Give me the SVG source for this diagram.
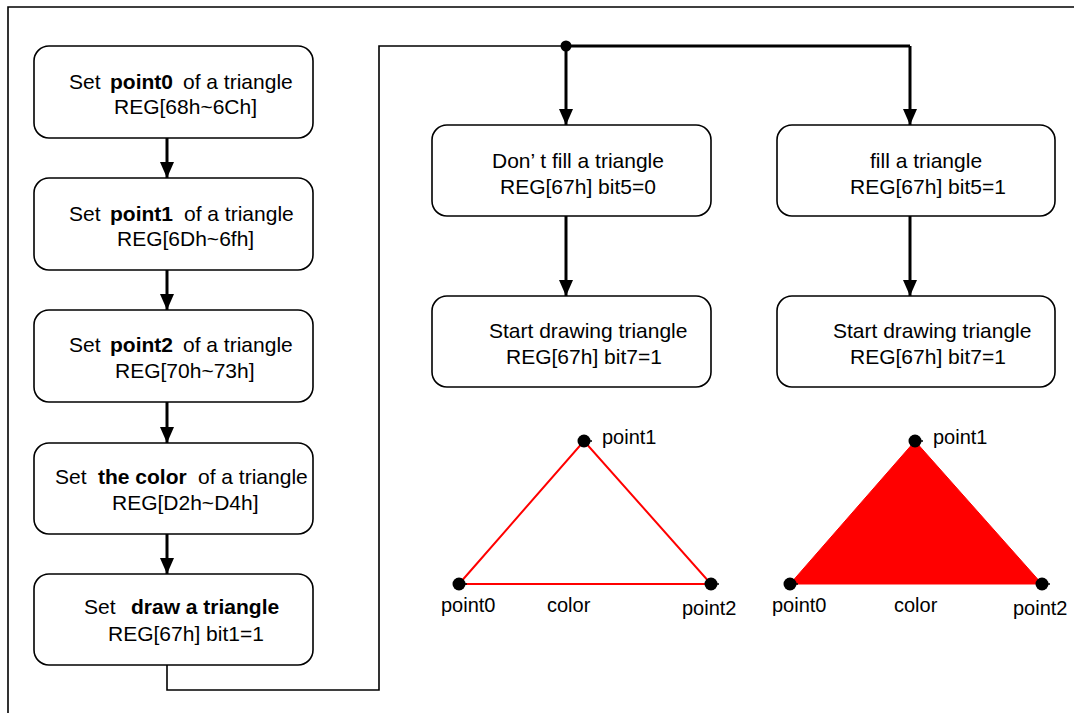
<svg xmlns="http://www.w3.org/2000/svg" width="1074" height="713" viewBox="0 0 1074 713">
<defs>
<marker id="ah" markerUnits="userSpaceOnUse" markerWidth="16" markerHeight="14" refX="16" refY="7" orient="auto" viewBox="0 0 16 14">
<path d="M0,0 L16,7 L0,14 Z" fill="#000"/>
</marker>
<style>
.box{fill:#fff;stroke:#000;stroke-width:1.6}
.t{font-family:"Liberation Sans",Arial,sans-serif;font-size:21px;fill:#000}
.b{font-weight:bold}
.lbl{font-family:"Liberation Sans",Arial,sans-serif;font-size:20px;fill:#000}
.thick{fill:none;stroke:#000;stroke-width:3}
.thin{fill:none;stroke:#000;stroke-width:1.6}
.dot{fill:#000}
</style>
</defs>
<rect width="1074" height="713" fill="#fff"/>
<path class="thin" d="M8,713 L8,7 L1074,7"/>

<g id="connectors">
<line class="thick" x1="167" y1="138" x2="167" y2="178" marker-end="url(#ah)"/>
<line class="thick" x1="167" y1="270" x2="167" y2="310" marker-end="url(#ah)"/>
<line class="thick" x1="167" y1="402" x2="167" y2="443" marker-end="url(#ah)"/>
<line class="thick" x1="167" y1="534" x2="167" y2="574" marker-end="url(#ah)"/>
<path class="thin" d="M167,665 L167,690 L379,690 L379,46 L566,46"/>
<path class="thick" d="M566,46 L910,46"/>
<circle class="dot" cx="566" cy="46" r="5.5"/>
<line class="thick" x1="566" y1="46" x2="566" y2="125" marker-end="url(#ah)"/>
<line class="thick" x1="910" y1="46" x2="910" y2="125" marker-end="url(#ah)"/>
<line class="thick" x1="566" y1="216" x2="566" y2="296" marker-end="url(#ah)"/>
<line class="thick" x1="910" y1="216" x2="910" y2="296" marker-end="url(#ah)"/>
</g>

<g id="n-point0">
<rect class="box" x="34" y="46" width="279" height="92" rx="15"/>
<text class="t" y="89"><tspan x="69">Set</tspan><tspan x="110" class="b">point0</tspan><tspan x="183">of a triangle</tspan></text>
<text class="t" x="114" y="114">REG[68h~6Ch]</text>
</g>
<g id="n-point1">
<rect class="box" x="34" y="178" width="279" height="92" rx="15"/>
<text class="t" y="221"><tspan x="69">Set</tspan><tspan x="110" class="b">point1</tspan><tspan x="184">of a triangle</tspan></text>
<text class="t" x="117" y="246">REG[6Dh~6fh]</text>
</g>
<g id="n-point2">
<rect class="box" x="34" y="310" width="279" height="92" rx="15"/>
<text class="t" y="352"><tspan x="69">Set</tspan><tspan x="110" class="b">point2</tspan><tspan x="183">of a triangle</tspan></text>
<text class="t" x="115" y="378">REG[70h~73h]</text>
</g>
<g id="n-color">
<rect class="box" x="34" y="443" width="279" height="91" rx="15"/>
<text class="t" y="484"><tspan x="55">Set</tspan><tspan x="98" class="b">the color</tspan><tspan x="198">of a triangle</tspan></text>
<text class="t" x="112" y="510">REG[D2h~D4h]</text>
</g>
<g id="n-draw">
<rect class="box" x="34" y="574" width="279" height="91" rx="15"/>
<text class="t" y="614"><tspan x="84">Set</tspan><tspan x="131" class="b">draw a triangle</tspan></text>
<text class="t" x="108" y="641">REG[67h] bit1=1</text>
</g>

<g id="n-nofill">
<rect class="box" x="432" y="125" width="279" height="91" rx="15"/>
<text class="t" x="492" y="168">Don’ t fill a triangle</text>
<text class="t" x="500" y="194">REG[67h] bit5=0</text>
</g>
<g id="n-fill">
<rect class="box" x="777" y="125" width="278" height="91" rx="15"/>
<text class="t" x="870" y="168">fill a triangle</text>
<text class="t" x="850" y="194">REG[67h] bit5=1</text>
</g>
<g id="n-start1">
<rect class="box" x="432" y="296" width="279" height="91" rx="15"/>
<text class="t" x="489" y="338">Start drawing triangle</text>
<text class="t" x="506" y="364">REG[67h] bit7=1</text>
</g>
<g id="n-start2">
<rect class="box" x="777" y="296" width="278" height="91" rx="15"/>
<text class="t" x="833" y="338">Start drawing triangle</text>
<text class="t" x="850" y="364">REG[67h] bit7=1</text>
</g>

<g id="tri-outline">
<polygon points="459,584 584,441 711,584" fill="none" stroke="#f00" stroke-width="2"/>
<circle class="dot" cx="584" cy="441" r="6.5"/>
<circle class="dot" cx="459" cy="584" r="6.5"/>
<circle class="dot" cx="711" cy="584" r="6.5"/>
<path class="thin" d="M584,441 L592,441 M459,584 L467,584 M711,584 L719,584"/>
<text class="lbl" x="602" y="444">point1</text>
<text class="lbl" x="441" y="612">point0</text>
<text class="lbl" x="547" y="612">color</text>
<text class="lbl" x="682" y="615">point2</text>
</g>
<g id="tri-filled">
<polygon points="790,584 915,441 1042,584" fill="#f00" stroke="#f00" stroke-width="1"/>
<circle class="dot" cx="915" cy="441" r="6.5"/>
<circle class="dot" cx="790" cy="584" r="6.5"/>
<circle class="dot" cx="1042" cy="584" r="6.5"/>
<path class="thin" d="M915,441 L923,441 M790,584 L798,584 M1042,584 L1050,584"/>
<text class="lbl" x="933" y="444">point1</text>
<text class="lbl" x="772" y="612">point0</text>
<text class="lbl" x="894" y="612">color</text>
<text class="lbl" x="1013" y="615">point2</text>
</g>
</svg>
